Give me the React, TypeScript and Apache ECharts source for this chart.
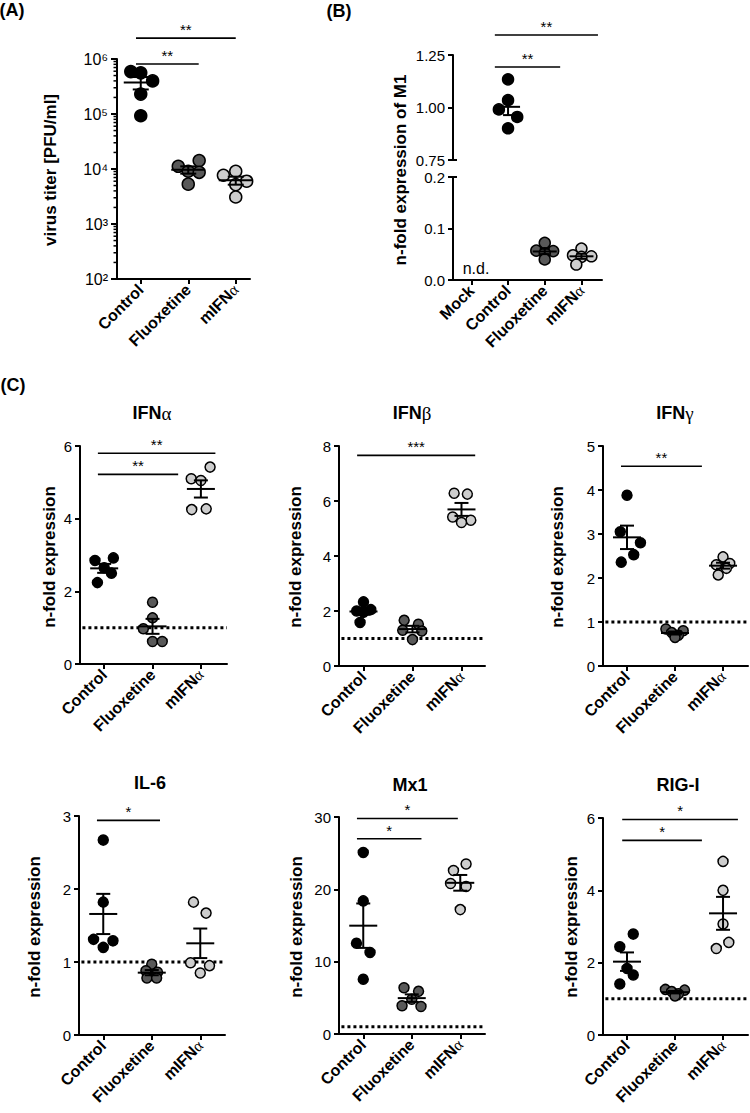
import React, { useEffect, useRef } from 'react';
import * as echarts from 'echarts';

const FONT = '"Liberation Sans", Arial, Helvetica, sans-serif';
const SERIF = '"Liberation Serif", "DejaVu Serif", serif';

// ---- categories ----
const groups3 = ['Control', 'Fluoxetine', 'mIFNα'];
const groupsB = ['Mock', 'Control', 'Fluoxetine', 'mIFNα'];
const groupColors = ['#000000', '#595959', '#cdcdcd'];

// ---- (A) virus titer [PFU/ml] ----
const titerValues = [
  [5.9e5, 5.6e5, 4.0e5, 2.3e5, 9.3e4],
  [1.42e4, 1.12e4, 9.1e3, 8.7e3, 5.3e3],
  [9.1e3, 7.7e3, 6.0e3, 5.2e3, 3.1e3],
];
const titerJitter = [
  [-0.21, 0, 0.25, 0, 0],
  [0.23, -0.21, 0, 0.23, 0],
  [0, -0.26, 0.23, 0, 0],
];
const titerSig: [number, number, number, string][] = [
  [0.9, 2.22, 8.1e5, '**'],
  [0.9, 3.0, 2.4e6, '**'],
];
const titerDecades = [2, 3, 4, 5, 6];

// ---- (B) n-fold expression of M1 ----
const m1Control = [1.134, 1.035, 0.991, 0.955, 0.901];
const m1Fluox = [0.072, 0.057, 0.056, 0.052, 0.04];
const m1Mifn = [0.061, 0.048, 0.046, 0.045, 0.03];
const m1Jitter = [
  [0, 0, -0.25, 0.25, 0],
  [0, -0.23, 0.23, 0, 0],
  [0, -0.23, 0.27, 0, -0.14],
];
const m1Sig: [number, number, number, string][] = [
  [1.64, 3.42, 1.193, '**'],
  [1.64, 4.45, 1.345, '**'],
];
const m1BreakUpper = [0.75];
const m1BreakLower = [0.2];

// ---- (C) cytokine panels ----
const ifnaValues = [
  [2.92, 2.85, 2.65, 2.5, 2.24],
  [1.7, 1.27, 0.97, 0.62, 0.62],
  [5.42, 5.1, 5.05, 4.27, 4.25],
];
const ifnaJitter = [
  [0.19, -0.19, 0, 0.15, -0.14],
  [0, 0, -0.19, 0, 0.2],
  [0.19, -0.2, 0, 0.11, -0.19],
];
const ifnaSig: [number, number, number, string][] = [
  [0.87, 2.53, 5.22, '**'],
  [0.87, 3.3, 5.8, '**'],
];

const ifnbValues = [
  [2.33, 2.05, 2.0, 1.95, 1.58],
  [1.66, 1.52, 1.3, 1.27, 0.96],
  [6.28, 6.25, 5.42, 5.3, 5.22],
];
const ifnbJitter = [
  [0, 0.15, -0.14, 0, -0.07],
  [-0.17, 0.12, -0.2, 0.19, 0],
  [-0.15, 0.12, -0.18, 0.19, 0],
];
const ifnbSig: [number, number, number, string][] = [[0.87, 3.28, 7.66, '***']];

const ifngValues = [
  [3.88, 3.05, 2.8, 2.53, 2.36],
  [0.84, 0.8, 0.76, 0.7, 0.65],
  [2.48, 2.33, 2.3, 2.22, 2.07],
];
const ifngJitter = [
  [0, -0.14, 0.28, 0.14, -0.12],
  [-0.19, 0.17, -0.07, 0.07, 0],
  [0, 0.14, -0.14, 0.07, -0.1],
];
const ifngSig: [number, number, number, string][] = [[0.875, 2.56, 4.54, '**']];

const il6Values = [
  [2.67, 1.82, 1.31, 1.29, 1.2],
  [0.97, 0.88, 0.86, 0.78, 0.78],
  [1.82, 1.67, 0.99, 0.95, 0.85],
];
const il6Jitter = [
  [0, 0, -0.2, 0.2, 0],
  [0, -0.12, 0.12, -0.1, 0.1],
  [-0.14, 0.12, -0.2, 0.19, 0],
];
const il6Sig: [number, number, number, string][] = [[0.87, 2.17, 2.94, '*']];

const mx1Values = [
  [25.1, 18.4, 12.55, 11.26, 7.57],
  [6.4, 5.9, 4.8, 3.9, 3.8],
  [23.5, 22.6, 20.8, 20.4, 17.2],
];
const mx1Jitter = [
  [0, 0, -0.14, 0.14, 0],
  [-0.16, 0.14, 0, -0.2, 0.19],
  [0.12, -0.14, -0.2, 0.12, 0],
];
const mx1Sig: [number, number, number, string][] = [
  [0.87, 2.2, 27, '*'],
  [0.87, 2.95, 29.8, '*'],
];

const rigValues = [
  [2.79, 2.44, 1.84, 1.66, 1.41],
  [1.26, 1.24, 1.2, 1.14, 1.08],
  [4.8, 4.0, 3.07, 2.56, 2.39],
];
const rigJitter = [
  [0.13, -0.15, 0, 0.13, -0.15],
  [-0.2, 0.2, -0.07, 0.07, 0],
  [0, 0, 0, 0.12, -0.14],
];
const rigSig: [number, number, number, string][] = [
  [0.9, 2.56, 5.38, '*'],
  [0.9, 3.31, 5.96, '*'],
];

const baseline = 1;

// ---- helpers ----
const mean = (a: number[]) => a.reduce((s, v) => s + v, 0) / a.length;
const sem = (a: number[]) => {
  const m = mean(a);
  const v = a.reduce((s, x) => s + (x - m) * (x - m), 0) / (a.length - 1);
  return Math.sqrt(v / a.length);
};

const black = { color: '#000', width: 2 };

const richName = {
  b: { fontFamily: FONT, fontWeight: 'bold', fontSize: 16, color: '#000' },
  g: { fontFamily: SERIF, fontSize: 16, color: '#000' },
};
const fmtName = (n: string) => {
  if (!n) return '';
  const last = n[n.length - 1];
  if (last === 'α' || last === 'β' || last === 'γ') return `{b|${n.slice(0, -1)}}{g|${last}}`;
  return `{b|${n}}`;
};

const mkX = (gridIndex: number, max: number, names: string[], show = true) => {
  const pos = names.map((_, i) => i + 1);
  return {
    type: 'value',
    gridIndex,
    min: 0.5,
    max,
    show,
    splitLine: { show: false },
    axisLine: { show: true, onZero: false, lineStyle: black },
    axisTick: { show: true, customValues: pos, length: 5, lineStyle: black },
    axisLabel: {
      show: true,
      customValues: pos,
      formatter: (v: number) => fmtName(names[Math.round(v) - 1]),
      rotate: 45,
      margin: 8,
      rich: richName,
    },
  };
};

const mkY = (gridIndex: number, min: number, max: number, interval: number, fmt?: (v: number) => string) => ({
  type: 'value',
  gridIndex,
  min,
  max,
  interval,
  splitLine: { show: false },
  axisLine: { show: true, onZero: false, lineStyle: black },
  axisTick: { show: true, length: 5, lineStyle: black },
  axisLabel: {
    fontFamily: FONT,
    fontSize: 15,
    color: '#000',
    margin: 8,
    formatter: fmt || ((v: number) => String(v)),
  },
});

const scatterSeries = (xi: number, yi: number, gx: number, vals: number[], jit: number[], color: string, size: number) => ({
  type: 'scatter',
  xAxisIndex: xi,
  yAxisIndex: yi,
  data: vals.map((v, j) => [gx + jit[j], v]),
  symbol: 'circle',
  symbolSize: size,
  itemStyle: { color, borderColor: '#000', borderWidth: 1.5, opacity: 1 },
  silent: true,
  z: 3,
});

const meanSeries = (xi: number, yi: number, groups: { x: number; vals: number[] }[], hw: number, cw: number) => ({
  type: 'custom',
  xAxisIndex: xi,
  yAxisIndex: yi,
  z: 5,
  silent: true,
  data: groups.map((g) => [g.x, mean(g.vals), sem(g.vals)]),
  encode: { x: 0, y: 1 },
  renderItem: (_p: any, api: any) => {
    const x = api.value(0);
    const m = api.value(1);
    const s = api.value(2);
    const c = api.coord([x, m]);
    const t = api.coord([x, m + s]);
    const b = api.coord([x, m - s]);
    const st = { stroke: '#000', lineWidth: 2 };
    return {
      type: 'group',
      children: [
        { type: 'line', shape: { x1: c[0] - hw, y1: c[1], x2: c[0] + hw, y2: c[1] }, style: st },
        { type: 'line', shape: { x1: c[0], y1: t[1], x2: c[0], y2: b[1] }, style: st },
        { type: 'line', shape: { x1: c[0] - cw, y1: t[1], x2: c[0] + cw, y2: t[1] }, style: st },
        { type: 'line', shape: { x1: c[0] - cw, y1: b[1], x2: c[0] + cw, y2: b[1] }, style: st },
      ],
    };
  },
});

const sigSeries = (xi: number, yi: number, bars: [number, number, number, string][]) => ({
  type: 'custom',
  xAxisIndex: xi,
  yAxisIndex: yi,
  z: 5,
  silent: true,
  clip: false,
  data: bars.map((b) => [b[0], b[1], b[2]]),
  encode: { x: [0, 1], y: 2 },
  renderItem: (p: any, api: any) => {
    const y = api.value(2);
    const p1 = api.coord([api.value(0), y]);
    const p2 = api.coord([api.value(1), y]);
    const label = bars[p.dataIndex][3];
    return {
      type: 'group',
      children: [
        { type: 'line', shape: { x1: p1[0], y1: p1[1], x2: p2[0], y2: p1[1] }, style: { stroke: '#000', lineWidth: 1.6 } },
        {
          type: 'text',
          x: (p1[0] + p2[0]) / 2,
          y: p1[1] - 1,
          style: { text: label, align: 'center', verticalAlign: 'bottom', fontSize: 15, fontFamily: FONT, fill: '#000' },
        },
      ],
    };
  },
});

// short tick marks on the y axis (left extent / right extent in px from the axis line)
const tickSeries = (xi: number, yi: number, xAt: number, values: number[], left: number, right: number, width: number) => ({
  type: 'custom',
  xAxisIndex: xi,
  yAxisIndex: yi,
  z: 6,
  silent: true,
  clip: false,
  data: values.map((v) => [xAt, v]),
  encode: { x: 0, y: 1 },
  renderItem: (_p: any, api: any) => {
    const c = api.coord([api.value(0), api.value(1)]);
    return {
      type: 'line',
      shape: { x1: c[0] - left, y1: c[1], x2: c[0] + right, y2: c[1] },
      style: { stroke: '#000', lineWidth: width },
    };
  },
});

const refSeries = (xi: number, yi: number, max: number) => ({
  type: 'line',
  xAxisIndex: xi,
  yAxisIndex: yi,
  data: [
    [0.55, baseline],
    [max, baseline],
  ],
  symbol: 'none',
  silent: true,
  lineStyle: { color: '#000', width: 3, type: [3, 3] },
  z: 1,
});

const SUP: Record<number, string> = { 2: '²', 3: '³', 4: '⁴', 5: '⁵', 6: '⁶' };

export default function App() {
  const ref = useRef<HTMLDivElement>(null);
  useEffect(() => {
    if (!ref.current) return;
    const chart = echarts.init(ref.current, null, { renderer: 'svg', width: 750, height: 1113 });

    const grids = [
      { left: 117, top: 59, width: 133, height: 220 }, // A
      { left: 453, top: 55, width: 149, height: 105 }, // B upper
      { left: 453, top: 177, width: 149, height: 103 }, // B lower
      { left: 80, top: 446, width: 147, height: 218 }, // IFNa
      { left: 339, top: 446, width: 146, height: 220 }, // IFNb
      { left: 603, top: 446, width: 145, height: 220 }, // IFNg
      { left: 79, top: 816, width: 146, height: 219 }, // IL-6
      { left: 339, top: 817, width: 146, height: 217 }, // Mx1
      { left: 603, top: 818, width: 145, height: 217 }, // RIG-I
    ];

    // minor log ticks 2..9 × 10^d
    const minorTicks: number[] = [];
    for (let i = 0; i < titerDecades.length - 1; i++)
      for (let k = 2; k <= 9; k++) minorTicks.push(k * Math.pow(10, titerDecades[i]));

    const xAxes = [
      mkX(0, 3.3, groups3),
      mkX(1, 4.56, groupsB, false),
      mkX(2, 4.56, groupsB),
      mkX(3, 3.54, groups3),
      mkX(4, 3.48, groups3),
      mkX(5, 3.52, groups3),
      mkX(6, 3.51, groups3),
      mkX(7, 3.51, groups3),
      mkX(8, 3.52, groups3),
    ];

    const yAxes: any[] = [
      {
        type: 'log',
        logBase: 10,
        gridIndex: 0,
        min: 100,
        max: 1e6,
        position: 'left',
        splitLine: { show: false },
        axisLine: { show: true, onZero: false, lineStyle: black },
        axisTick: { show: true, length: 6, lineStyle: black },
        axisLabel: {
          fontFamily: FONT,
          fontSize: 16,
          color: '#000',
          margin: 9,
          formatter: (v: number) => '10' + SUP[Math.round(Math.log10(v))],
        },
      },
      mkY(1, 0.75, 1.25, 0.25, (v: number) => v.toFixed(2)),
      mkY(2, 0, 0.2, 0.1, (v: number) => v.toFixed(1)),
      mkY(3, 0, 6, 2),
      mkY(4, 0, 8, 2),
      mkY(5, 0, 5, 1),
      mkY(6, 0, 3, 1),
      mkY(7, 0, 30, 10),
      mkY(8, 0, 6, 2),
    ];

    const series: any[] = [];

    // (A)
    series.push(tickSeries(0, 0, 0.5, minorTicks, 3.5, 0, 1.5));
    titerValues.forEach((vals, g) => series.push(scatterSeries(0, 0, g + 1, vals, titerJitter[g], groupColors[g], 12)));
    series.push(meanSeries(0, 0, titerValues.map((vals, g) => ({ x: g + 1, vals })), 17, 8));
    series.push(sigSeries(0, 0, titerSig));

    // (B)
    series.push(tickSeries(1, 1, 0.5, m1BreakUpper, 0, 4, 2));
    series.push(tickSeries(2, 2, 0.5, m1BreakLower, 0, 4, 2));
    series.push(scatterSeries(1, 1, 2, m1Control, m1Jitter[0], groupColors[0], 11));
    series.push(scatterSeries(2, 2, 3, m1Fluox, m1Jitter[1], groupColors[1], 11));
    series.push(scatterSeries(2, 2, 4, m1Mifn, m1Jitter[2], groupColors[2], 11));
    series.push(meanSeries(1, 1, [{ x: 2, vals: m1Control }], 12, 5));
    series.push(meanSeries(2, 2, [{ x: 3, vals: m1Fluox }, { x: 4, vals: m1Mifn }], 12, 5));
    series.push(sigSeries(1, 1, m1Sig));

    // (C)
    const cPanels = [
      { vals: ifnaValues, jit: ifnaJitter, sig: ifnaSig, max: 3.54 },
      { vals: ifnbValues, jit: ifnbJitter, sig: ifnbSig, max: 3.48 },
      { vals: ifngValues, jit: ifngJitter, sig: ifngSig, max: 3.52 },
      { vals: il6Values, jit: il6Jitter, sig: il6Sig, max: 3.51 },
      { vals: mx1Values, jit: mx1Jitter, sig: mx1Sig, max: 3.51 },
      { vals: rigValues, jit: rigJitter, sig: rigSig, max: 3.52 },
    ];
    cPanels.forEach((p, k) => {
      const ai = k + 3;
      series.push(refSeries(ai, ai, p.max));
      p.vals.forEach((vals, g) => series.push(scatterSeries(ai, ai, g + 1, vals, p.jit[g], groupColors[g], 10)));
      series.push(meanSeries(ai, ai, p.vals.map((vals, g) => ({ x: g + 1, vals })), 14, 7));
      series.push(sigSeries(ai, ai, p.sig));
    });

    const txt = (x: number, y: number, text: string, size: number, bold = true, rot = 0, rich?: any) => ({
      type: 'text',
      x,
      y,
      rotation: rot,
      silent: true,
      style: {
        text,
        align: 'center',
        verticalAlign: 'middle',
        fontFamily: FONT,
        fontSize: size,
        fontWeight: bold ? 'bold' : 'normal',
        fill: '#000',
        rich,
      },
    });
    const titleRich = {
      b: { fontFamily: FONT, fontWeight: 'bold', fontSize: 18, color: '#000' },
      g: { fontFamily: SERIF, fontSize: 19, color: '#000' },
    };
    const R = Math.PI / 2;

    const graphic = [
      txt(12, 10, '(A)', 18),
      txt(339, 11, '(B)', 18),
      txt(13, 385, '(C)', 18),
      txt(50, 170, 'virus titer [PFU/ml]', 17, true, R),
      txt(400, 170, 'n-fold expression of M1', 17, true, R),
      txt(476, 268, 'n.d.', 16, false),
      txt(152, 413, '{b|IFN}{g|α}', 18, true, 0, titleRich),
      txt(412, 413, '{b|IFN}{g|β}', 18, true, 0, titleRich),
      txt(675, 413, '{b|IFN}{g|γ}', 18, true, 0, titleRich),
      txt(150, 783, 'IL-6', 18),
      txt(410, 785, 'Mx1', 18),
      txt(678, 785, 'RIG-I', 18),
      txt(49, 557, 'n-fold expression', 17, true, R),
      txt(295, 557, 'n-fold expression', 17, true, R),
      txt(557, 557, 'n-fold expression', 17, true, R),
      txt(34, 927, 'n-fold expression', 17, true, R),
      txt(296, 927, 'n-fold expression', 17, true, R),
      txt(571, 927, 'n-fold expression', 17, true, R),
    ];

    chart.setOption({
      animation: false,
      backgroundColor: '#ffffff',
      grid: grids,
      xAxis: xAxes,
      yAxis: yAxes,
      series,
      graphic,
    });
    return () => chart.dispose();
  }, []);

  return <div ref={ref} style={{ position: 'absolute', left: 0, top: 0, width: 750, height: 1113 }} />;
}
